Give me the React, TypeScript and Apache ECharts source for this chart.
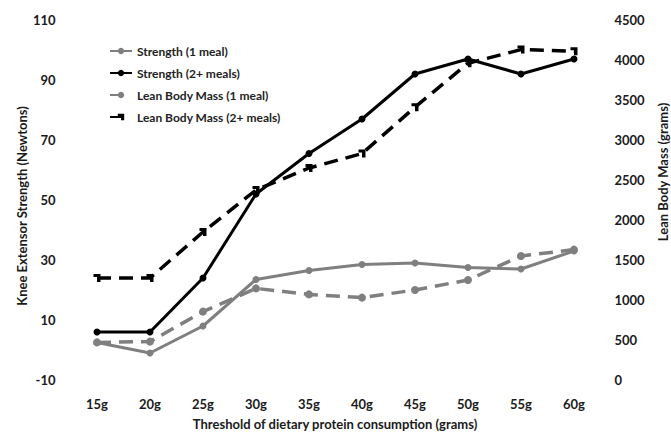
import React, { useEffect, useRef } from "react";
import * as echarts from "echarts";

const categories = ["15g", "20g", "25g", "30g", "35g", "40g", "45g", "50g", "55g", "60g"];
const strength1 = [2.5, -1, 8, 23.5, 26.5, 28.5, 29, 27.5, 27, 33];
const strength2 = [6, 6, 24, 52, 65.5, 77, 92, 97, 92, 97];
const lbm1 = [470, 480, 855, 1145, 1070, 1030, 1125, 1250, 1550, 1630];
const lbm2 = [1275, 1275, 1850, 2375, 2650, 2830, 3410, 3960, 4130, 4110];
const leftTicks = [-10, 10, 30, 50, 70, 90, 110];

const FONT = "Lato, 'Open Sans', sans-serif";
const GRAY = "#7f7f7f";
const BLACK = "#000000";
const HOOK = "path://M0,0 L6,0 L6,8 L3,8 L3,3 L0,3 Z";

export default function App() {
  const ref = useRef<HTMLDivElement>(null);
  useEffect(() => {
    if (!ref.current) return;
    const chart = echarts.init(ref.current, null, { renderer: "svg" });
    const labelStyle = { fontFamily: FONT, fontWeight: "bold" as const, fontSize: 13, color: "#1a1a1a" };
    chart.setOption({
      animation: false,
      backgroundColor: "#ffffff",
      grid: { left: 70.5, right: 70.5, top: 20, bottom: 53 },
      legend: {
        orient: "vertical",
        left: 104,
        top: 40,
        itemWidth: 22,
        itemHeight: 8,
        itemGap: 10,
        textStyle: { fontFamily: FONT, fontWeight: "bold", fontSize: 12, color: "#222" },
        data: ["Strength (1 meal)", "Strength (2+ meals)", "Lean Body Mass (1 meal)", "Lean Body Mass (2+ meals)"],
      },
      xAxis: {
        type: "category",
        data: categories,
        boundaryGap: true,
        axisLine: { show: false },
        axisTick: { show: false },
        axisLabel: { ...labelStyle, margin: 17 },
      },
      yAxis: [
        {
          type: "value",
          min: -10,
          max: 110,
          axisLine: { show: false },
          axisTick: { show: false },
          splitLine: { show: false },
          axisLabel: { ...labelStyle, margin: 15, customValues: leftTicks },
        },
        {
          type: "value",
          min: 0,
          max: 4500,
          interval: 500,
          axisLine: { show: false },
          axisTick: { show: false },
          splitLine: { show: false },
          axisLabel: { ...labelStyle, margin: 14, formatter: (v: number) => String(v) },
        },
      ],
      graphic: [
        {
          type: "text",
          x: 335,
          y: 424,
          style: { text: "Threshold of dietary protein consumption (grams)", font: `bold 13px ${FONT}`, fill: "#1a1a1a", align: "center", verticalAlign: "middle" },
        },
        {
          type: "text",
          x: 22,
          y: 206,
          rotation: Math.PI / 2,
          style: { text: "Knee Extensor Strength (Newtons)", font: `bold 13px ${FONT}`, fill: "#1a1a1a", align: "center", verticalAlign: "middle" },
        },
        {
          type: "text",
          x: 663,
          y: 172,
          rotation: Math.PI / 2,
          style: { text: "Lean Body Mass (grams)", font: `bold 13px ${FONT}`, fill: "#1a1a1a", align: "center", verticalAlign: "middle" },
        },
      ],
      series: [
        {
          name: "Lean Body Mass (1 meal)",
          type: "line",
          yAxisIndex: 1,
          data: lbm1,
          symbol: "circle",
          symbolSize: 8,
          itemStyle: { color: GRAY },
          lineStyle: { color: GRAY, width: 3.5, type: [14, 8] },
        },
        {
          name: "Lean Body Mass (2+ meals)",
          type: "line",
          yAxisIndex: 1,
          data: lbm2,
          symbol: HOOK,
          symbolSize: [7, 8],
          itemStyle: { color: BLACK },
          lineStyle: { color: BLACK, width: 3.5, type: [14, 8] },
        },
        {
          name: "Strength (1 meal)",
          type: "line",
          yAxisIndex: 0,
          data: strength1,
          symbol: "circle",
          symbolSize: 7,
          itemStyle: { color: GRAY },
          lineStyle: { color: GRAY, width: 3 },
        },
        {
          name: "Strength (2+ meals)",
          type: "line",
          yAxisIndex: 0,
          data: strength2,
          symbol: "circle",
          symbolSize: 7,
          itemStyle: { color: BLACK },
          lineStyle: { color: BLACK, width: 3 },
        },
      ],
    });
    return () => chart.dispose();
  }, []);
  return <div ref={ref} style={{ width: 671, height: 433, position: "absolute", left: 0, top: 0 }} />;
}
